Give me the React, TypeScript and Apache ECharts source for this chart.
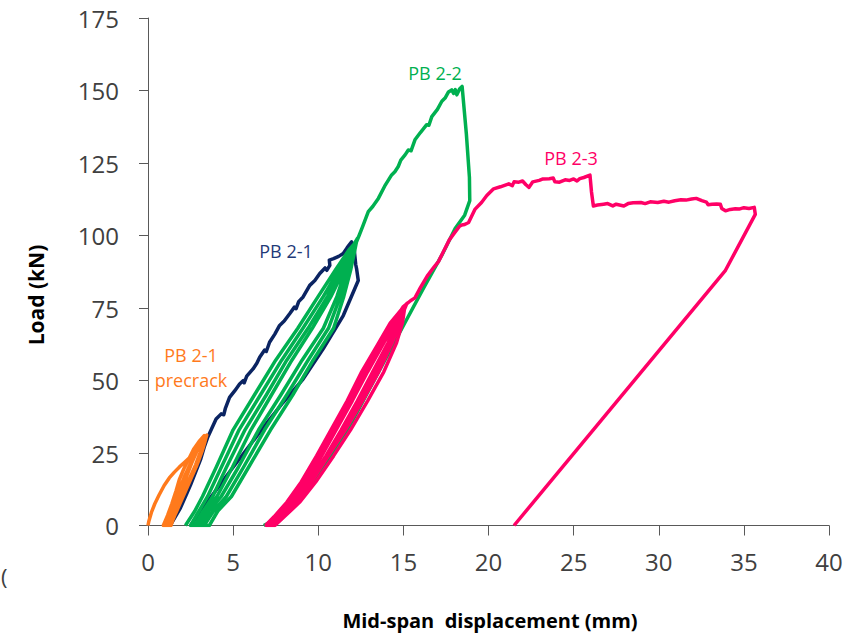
import React, { useEffect, useRef } from "react";
import * as echarts from "echarts";

const xTicks = [0, 5, 10, 15, 20, 25, 30, 35, 40];
const yTicks = [0, 25, 50, 75, 100, 125, 150, 175];

const precrackData: number[][] = [
  [0, 0], [0.05, 1.5], [0.2, 4.5], [0.4, 7.5], [0.65, 10.5], [0.95, 13.8], [1.25, 16.4], [1.55, 18.4],
  [1.85, 20.2], [2.15, 21.8], [2.45, 23.4], [2.7, 25.2], [2.95, 27.2], [3.2, 29.2], [3.4, 30.8],
  [3.35, 29], [3.2, 26], [2.95, 22], [2.65, 18], [2.35, 14], [2.05, 10], [1.75, 6], [1.5, 2.5], [1.35, 0],
  [0.9, 0], [1.15, 3.5], [1.4, 7.5], [1.65, 12], [1.85, 16], [2.1, 19.5], [2.4, 23], [2.7, 26.5], [3.0, 29], [3.3, 31],
  [3.25, 28.5], [3.05, 25], [2.8, 21], [2.5, 17], [2.2, 13], [1.9, 9], [1.6, 5], [1.35, 2], [1.15, 0],
  [1.1, 0], [1.4, 4], [1.7, 8.5], [2.0, 13], [2.3, 17.5], [2.6, 22], [2.9, 26], [3.2, 29.5], [3.45, 31.2],
  [3.3, 28], [3.1, 24.5], [2.85, 20.5], [2.55, 16.5], [2.25, 12.5], [1.95, 8.5], [1.65, 4.5], [1.4, 1.5], [1.25, 0],
  [1.0, 0], [1.3, 4], [1.55, 8], [1.85, 12.5], [2.15, 17], [2.5, 21.5], [2.8, 25.5], [3.1, 29], [3.4, 31],
];

const pb21Data: number[][] = [
  [1.3, 0], [1.6, 3], [1.9, 6], [2.2, 10], [2.5, 14], [2.8, 18.5], [3.1, 23], [3.3, 27], [3.5, 30.3],
  [3.75, 33.5], [4.0, 36.7], [4.3, 38.5], [4.45, 38.2], [4.55, 40.5], [4.79, 44.2], [5.1, 46.5], [5.38, 48.8],
  [5.6, 50], [5.65, 49.2], [5.8, 51.5], [6.17, 54], [6.4, 56], [6.56, 58], [6.85, 60.5], [6.95, 60], [7.14, 63.2],
  [7.45, 66], [7.73, 69], [8.0, 70.5], [8.32, 73], [8.6, 75.3], [8.7, 74.8], [8.85, 77.2], [9.11, 78.8],
  [9.5, 82.8], [9.8, 84.5], [10.09, 86.9], [10.4, 88.8], [10.5, 88], [10.68, 89.7], [10.65, 91.5], [10.9, 92],
  [11.2, 92.8], [11.47, 93.8], [11.7, 95.8], [11.96, 97.8], [12.1, 96], [12.15, 93], [12.2, 90], [12.25, 88.6],
  [12.35, 84.5], [11.47, 72.4], [10.29, 60.9], [9.11, 50.5], [7.93, 42.4], [6.8, 34], [5.7, 25.5], [4.6, 17],
  [3.6, 9], [2.8, 2.5], [2.5, 0],
];

const pb22Data: number[][] = [
  [2.2, 0], [2.75, 5], [3.2, 10], [4.0, 20], [5.0, 33], [6.25, 45], [7.5, 57], [8.8, 68], [10.0, 79], [11.0, 88], [11.8, 95], [12.25, 98],
  [12.15, 95], [11.9, 88], [11.5, 79], [10.9, 68], [9.7, 57], [8.5, 45], [7.2, 33], [5.9, 20], [4.9, 10], [4.1, 5], [3.6, 0],
  [2.5, 0], [3.0, 5], [3.5, 10], [4.3, 20], [5.35, 33], [6.6, 45], [7.85, 57], [9.1, 68], [10.3, 79], [11.2, 88], [11.9, 95], [12.3, 99],
  [12.1, 95], [11.75, 88], [11.3, 79], [10.6, 68], [9.4, 57], [8.15, 45], [6.85, 33], [5.6, 20], [4.6, 10], [3.85, 5], [3.3, 0],
  [2.75, 0], [3.25, 5], [3.8, 10], [4.6, 20], [5.7, 33], [6.95, 45], [8.15, 57], [9.4, 68], [10.55, 79], [11.35, 88], [12.0, 95], [12.25, 98.5],
  [12.05, 95], [11.6, 88], [11.1, 79], [10.3, 68], [9.05, 57], [7.8, 45], [6.5, 33], [5.3, 20], [4.3, 10], [3.6, 5], [3.1, 0],
  [2.9, 0], [3.45, 5], [4.05, 10], [4.95, 20], [6.05, 33], [7.25, 45], [8.45, 57], [9.65, 68], [10.75, 79], [11.5, 88], [12.05, 95], [12.4, 100],
  [12.6, 103], [12.94, 108.2], [13.2, 110], [13.53, 112.8], [13.9, 117], [14.31, 120.9], [14.5, 122], [14.7, 123.8],
  [14.85, 126], [15.1, 127.8], [15.29, 129.5], [15.45, 129.2], [15.68, 133], [16.0, 135.5], [16.37, 138.2], [16.5, 138],
  [16.67, 141], [17.0, 143.5], [17.26, 146.3], [17.45, 147.4], [17.65, 149.5], [17.84, 150.2], [17.95, 149],
  [18.05, 150.3], [18.14, 148.5], [18.3, 150.5], [18.45, 151.4],
  [18.7, 135], [18.88, 120], [18.9, 112], [18.6, 107], [18.04, 102.4], [17.26, 93.2], [16.2, 82], [15.1, 70],
  [14.0, 58], [13.0, 47], [12.0, 36], [11.0, 26], [10.0, 17], [9.0, 9.5], [8.0, 4], [7.3, 1.5], [6.8, 0],
];

const pb23Data: number[][] = [
  [6.9, 0], [7.4, 3], [8.15, 8], [9.0, 15], [9.9, 24], [10.75, 33], [11.7, 43], [12.55, 53], [13.55, 63], [14.25, 70], [15.1, 76],
  [14.95, 70], [14.6, 63], [13.85, 53], [12.9, 43], [11.9, 33], [10.9, 24], [9.85, 15], [8.9, 8], [8.0, 3], [7.45, 0],
  [7.0, 0], [7.55, 3], [8.35, 8], [9.25, 15], [10.2, 24], [11.05, 33], [12.0, 43], [12.9, 53], [13.85, 63], [14.5, 70], [15.15, 76],
  [14.8, 70], [14.35, 63], [13.55, 53], [12.6, 43], [11.6, 33], [10.6, 24], [9.6, 15], [8.7, 8], [7.85, 3], [7.35, 0],
  [7.1, 0], [7.65, 3], [8.5, 8], [9.45, 15], [10.45, 24], [11.35, 33], [12.3, 43], [13.2, 53], [14.1, 63], [14.65, 70], [15.2, 76.5],
  [14.75, 70], [14.25, 63], [13.4, 53], [12.45, 43], [11.45, 33], [10.45, 24], [9.5, 15], [8.6, 8], [7.75, 3], [7.25, 0],
  [6.95, 0], [7.45, 3], [8.25, 8], [9.1, 15], [10.05, 24], [10.9, 33], [11.85, 43], [12.75, 53], [13.7, 63], [14.4, 70],
  [15.0, 75.5], [15.42, 77.5],
  [15.68, 78.5], [16.0, 82], [16.4, 86], [16.81, 89.2], [17.06, 91], [17.4, 95], [17.7, 98.5], [18.0, 100.9],
  [18.3, 103.2], [18.43, 103.6], [18.6, 103.8], [18.83, 104.5], [19.2, 109], [19.59, 111.4], [19.9, 113.8],
  [20.3, 116.1], [20.7, 116.8], [21.19, 117.8], [21.4, 117.2], [21.5, 118.5], [21.78, 118.4], [22.0, 118.8],
  [22.2, 117.5], [22.38, 116.6], [22.6, 118.5], [22.98, 119], [23.2, 119.5], [23.57, 119.6], [23.8, 119.8],
  [23.9, 118.5], [24.17, 118.4], [24.5, 119.2], [24.77, 119], [25.0, 119.5], [25.2, 118.8], [25.36, 119.6],
  [25.6, 120], [25.96, 120.8], [26.05, 115], [26.16, 110.2], [26.4, 110.5], [26.76, 110.8], [27.0, 111],
  [27.3, 110.2], [27.5, 110.8], [27.95, 110.2], [28.2, 111], [28.5, 111.3], [28.95, 111.4], [29.2, 111],
  [29.5, 111.6], [29.94, 111.4], [30.3, 111.8], [30.6, 111.5], [30.94, 112], [31.3, 112.3], [31.6, 112.2],
  [31.93, 112.6], [32.2, 112.8], [32.53, 112], [32.8, 111.5], [32.9, 110.6], [33.13, 110.8], [33.4, 110.9],
  [33.62, 110.8], [33.7, 109.3], [33.92, 108.5], [34.2, 109], [34.5, 109.2], [34.72, 109.1], [35.0, 109.6],
  [35.3, 109.3], [35.61, 109.7], [35.67, 107.3], [33.92, 88], [21.5, 0],
];

const seriesNames = ["PB 2-1", "PB 2-1 precrack", "PB 2-2", "PB 2-3"];
const seriesColors = ["#0B2462", "#FF7A1C", "#00B050", "#FF0066"];

const TICK_FONT = "'Open Sans', 'Liberation Sans', sans-serif";

export default function App() {
  const ref = useRef<HTMLDivElement>(null);
  useEffect(() => {
    if (!ref.current) return;
    const chart = echarts.init(ref.current, undefined, { renderer: "svg" });
    const datasets = [pb21Data, precrackData, pb22Data, pb23Data];
    chart.setOption({
      animation: false,
      backgroundColor: "#ffffff",
      grid: { left: 148, right: 30, top: 18, bottom: 114.5, containLabel: false },
      xAxis: {
        type: "value",
        min: xTicks[0],
        max: xTicks[xTicks.length - 1],
        interval: 5,
        splitLine: { show: false },
        axisLine: { show: true, onZero: false, lineStyle: { color: "#595959", width: 1 } },
        axisTick: { show: true, inside: false, length: 10, lineStyle: { color: "#595959" } },
        axisLabel: { color: "#404040", fontSize: 24, fontFamily: TICK_FONT, margin: 24 },
      },
      yAxis: {
        type: "value",
        min: yTicks[0],
        max: yTicks[yTicks.length - 1],
        interval: 25,
        splitLine: { show: false },
        axisLine: { show: true, lineStyle: { color: "#595959", width: 1 } },
        axisTick: { show: true, inside: false, length: 9, lineStyle: { color: "#595959" } },
        axisLabel: { color: "#404040", fontSize: 24, fontFamily: TICK_FONT, margin: 29 },
      },
      series: datasets.map((d, i) => ({
        name: seriesNames[i],
        type: "line",
        data: d,
        showSymbol: false,
        symbol: "none",
        smooth: false,
        lineStyle: { color: seriesColors[i], width: 3.5, join: "round" },
        itemStyle: { color: seriesColors[i] },
        z: 2 + i,
      })),
      graphic: [
        {
          type: "text", x: 36, y: 295, rotation: Math.PI / 2,
          style: { text: "Load (kN)", fontSize: 21, fontWeight: "bold", fontFamily: TICK_FONT, fill: "#000000", align: "center", verticalAlign: "middle" },
        },
        {
          type: "text", x: 490, y: 620,
          style: { text: "Mid-span  displacement (mm)", fontSize: 20, fontWeight: "bold", fontFamily: TICK_FONT, fill: "#000000", align: "center", verticalAlign: "middle" },
        },
        {
          type: "text", x: 1, y: 576,
          style: { text: "(", fontSize: 22, fontFamily: TICK_FONT, fill: "#404040", align: "left", verticalAlign: "middle" },
        },
        {
          type: "text", x: 435, y: 73,
          style: { text: "PB 2-2", fontSize: 18, fontFamily: TICK_FONT, fill: "#00B050", align: "center", verticalAlign: "middle" },
        },
        {
          type: "text", x: 571, y: 158,
          style: { text: "PB 2-3", fontSize: 18, fontFamily: TICK_FONT, fill: "#FF0066", align: "center", verticalAlign: "middle" },
        },
        {
          type: "text", x: 286, y: 251,
          style: { text: "PB 2-1", fontSize: 18, fontFamily: TICK_FONT, fill: "#1F3A78", align: "center", verticalAlign: "middle" },
        },
        {
          type: "text", x: 191, y: 355,
          style: { text: "PB 2-1", fontSize: 18, fontFamily: TICK_FONT, fill: "#FF7A1C", align: "center", verticalAlign: "middle" },
        },
        {
          type: "text", x: 191, y: 380,
          style: { text: "precrack", fontSize: 18, fontFamily: TICK_FONT, fill: "#FF7A1C", align: "center", verticalAlign: "middle" },
        },
      ],
    });
    return () => chart.dispose();
  }, []);
  return (
    <div
      ref={ref}
      style={{ position: "fixed", left: 0, top: 0, width: 859, height: 640, background: "#fff" }}
    />
  );
}
